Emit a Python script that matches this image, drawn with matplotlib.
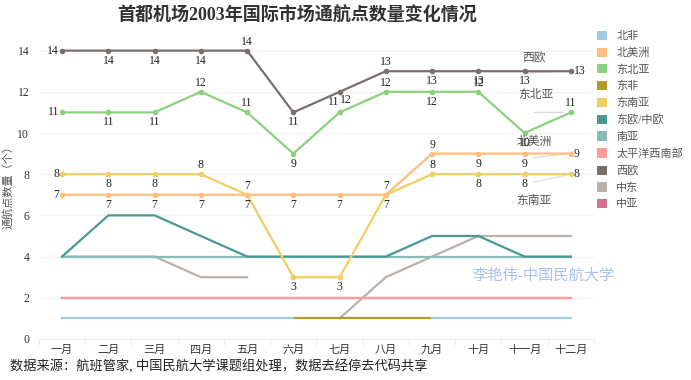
import numpy as np
import matplotlib.pyplot as plt
from matplotlib.patches import Patch

plt.rcParams['font.family'] = ['Liberation Serif', 'Noto Sans CJK SC']

# Données
mois = ['一月', '二月', '三月', '四月', '五月', '六月',
        '七月', '八月', '九月', '十月', '十一月', '十二月']
nan = np.nan
regions = ['北非', '北美洲', '东北亚', '东非', '东南亚', '东欧/中欧',
           '南亚', '太平洋西南部', '西欧', '中东', '中亚']

beifei = [1, 1, 1, 1, 1, 1, nan, nan, 1, 1, 1, 1]
beimeizhou = [7, 7, 7, 7, 7, 7, 7, 7, 9, 9, 9, 9]
dongbeiya = [11, 11, 11, 12, 11, 9, 11, 12, 12, 12, 10, 11]
dongfei = [nan, nan, nan, nan, nan, 1, 1, 1, 1, nan, nan, nan]
dongnanya = [8, 8, 8, 8, 7, 3, 3, 7, 8, 8, 8, 8]
dongou = [4, 6, 6, 5, 4, 4, 4, 4, 5, 5, 4, 4]
nanya = [4, 4, 4, 4, 4, 4, 4, 4, 4, 4, 4, 4]
taipingyang = [2, 2, 2, 2, 2, 2, 2, 2, 2, 2, 2, 2]
xiou = [14, 14, 14, 14, 14, 11, 12, 13, 13, 13, 13, 13]
zhongdong = [4, 4, 4, 3, 3, nan, 1, 3, 4, 5, 5, 5]
zhongya = [2, 2, 2, 2, 2, 2, 2, 2, 2, 2, 2, 2]

series = [beifei, beimeizhou, dongbeiya, dongfei, dongnanya, dongou,
          nanya, taipingyang, xiou, zhongdong, zhongya]
couleurs = ['#a0cbe8', '#ffbe7d', '#8cd17d', '#b6992d', '#f1ce63', '#499894',
            '#86bcb6', '#ff9d9a', '#79706e', '#bab0ac', '#d37295']

# séries avec étiquettes : position de chaque étiquette
positions = {
    '西欧': ['l', 'b', 'b', 'b', 'a', 'b', 'br', 'a', 'b', 'b', 'b', 'r'],
    '东北亚': ['l', 'b', 'b', 'a', 'a', 'b', 'al', 'a', 'b', 'a', 'b', 'a'],
    '北美洲': ['l', 'b', 'b', 'b', 'b', 'b', 'b', 'b', 'a', 'b', 'b', 'r'],
    '东南亚': ['l', 'b', 'b', 'a', 'a', 'b', 'b', 'a', 'a', 'b', 'b', 'r'],
}
decalage = {'a': (0, 9, 'center'), 'b': (0, -10, 'center'),
            'l': (-3, 0, 'right'), 'r': (3, 0, 'left'),
            'br': (6, -8, 'center'), 'al': (-6, 10, 'center')}
# nom en fin de ligne : (dx, dy) du texte, (dx, dy) du début du trait
fin = {'西欧': ((-37, 13), (-45, -2)),
       '东北亚': ((-35, 17), (-37, 0)),
       '北美洲': ((-37, 12), (-37, -4)),
       '东南亚': ((-37, -27), (-37, -8))}

fig = plt.figure(figsize=(6.91, 3.80), dpi=100)
ax = fig.add_axes([0.0564, 0.108, 0.8032, 0.813])
x = np.arange(len(mois))

for i, (nom, vals, c) in enumerate(zip(regions, series, couleurs)):
    avec_pts = nom in positions
    ax.plot(x, vals, color=c, lw=1.6, zorder=20 - i,
            marker='o' if avec_pts else None, markersize=3)
    if avec_pts:
        for xi, v, p in zip(x, vals, positions[nom]):
            dx, dy, ha = decalage[p]
            ax.annotate(f'{v:g}', (xi, v), xytext=(dx, dy), textcoords='offset pixels',
                        ha=ha, va='center', fontsize=8.5, color='#222222', zorder=30)
        (tx, ty), (lx, ly) = fin[nom]
        ax.annotate(nom, (x[-1], vals[-1]), xytext=(tx, ty), textcoords='offset pixels',
                    ha='center', va='center', fontsize=8.5, color='#555555', zorder=30)
        ax.annotate('', (x[-1], vals[-1]), xytext=(lx, ly), textcoords='offset pixels',
                    arrowprops=dict(arrowstyle='-', color='#d8d8d8', lw=0.8,
                                    shrinkA=0, shrinkB=5), zorder=5)

ax.set_xlim(-0.5, len(mois) - 0.5)
ax.set_ylim(0, 15)
ax.set_yticks(range(0, 15, 2))
ax.set_xticks(x)
ax.set_xticklabels(mois)
ax.set_xticks(np.arange(-0.5, len(mois), 1), minor=True)
ax.tick_params(axis='x', which='major', length=0, pad=4, labelsize=8, labelcolor='#333333')
ax.tick_params(axis='x', which='minor', length=4, color='#e6e6e6')
ax.tick_params(axis='y', length=0, pad=7, labelsize=8.5, labelcolor='#333333')
ax.grid(True, axis='y', color='#f2f2f2', lw=0.8)
ax.set_axisbelow(True)
for s in ['top', 'right', 'left']:
    ax.spines[s].set_visible(False)
ax.spines['bottom'].set_color('#eeeeee')
ax.set_ylabel('通航点数量（个）', fontsize=8, color='#555555', labelpad=3)

fig.text(0.43, 0.958, '首都机场2003年国际市场通航点数量变化情况', ha='center', va='center',
         fontsize=13, fontweight='bold', color='#333333')
fig.text(0.014, 0.037, '数据来源：航班管家, 中国民航大学课题组处理，数据去经停去代码共享',
         ha='left', va='center', fontsize=9.5, color='#222222')
fig.text(0.786, 0.276, '李艳伟-中国民航大学', ha='center', va='center',
         fontsize=11, color='#a9c1ea')

handles = [Patch(facecolor=c, edgecolor='none') for c in couleurs]
fig.legend(handles, regions, loc='upper left', bbox_to_anchor=(0.85, 0.945),
           frameon=False, fontsize=8, labelspacing=0.56, handlelength=0.9,
           handleheight=0.9, handletextpad=0.8, labelcolor='#555555')

fig.savefig('out.png', dpi=100)
